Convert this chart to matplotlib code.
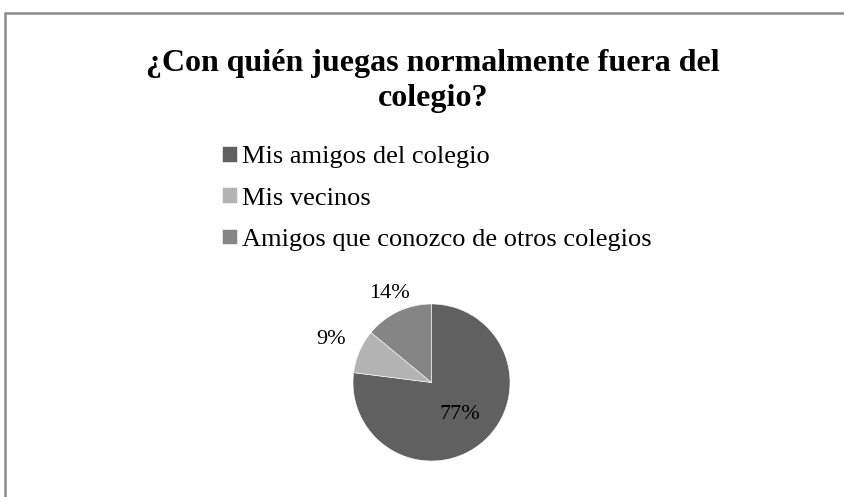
import matplotlib
matplotlib.use('Agg')
import numpy as np
import matplotlib.pyplot as plt
from matplotlib.patches import Rectangle

plt.rcParams['font.family'] = ['Liberation Serif', 'DejaVu Serif']

# Data
title = '¿Con quién juegas normalmente fuera del\ncolegio?'
categories = ['Mis amigos del colegio', 'Mis vecinos', 'Amigos que conozco de otros colegios']
values = [77, 9, 14]
colors = ['#606060', '#b3b3b3', '#858585']

W, H = 845, 497
fig = plt.figure(figsize=(W / 100, H / 100), dpi=100)

# Chart border (runs off the right and bottom edges)
fig.patches.append(Rectangle((5 / W, -0.1), 1.1, (H - 13) / H + 0.1,
                             transform=fig.transFigure, fill=False,
                             edgecolor='#8c8c8c', linewidth=1.8))

fig.text(433 / W, 1 - 81 / H, title, ha='center', va='center',
         fontsize=23, fontweight='bold', linespacing=1.3)

# Pie axes
cx, cy, r = 431.5, 382.5, 78.5
ax = fig.add_axes([(cx - r) / W, (H - cy - r) / H, 2 * r / W, 2 * r / H])
wedges, _ = ax.pie(values, colors=colors, startangle=90, counterclock=False,
                   wedgeprops=dict(edgecolor='white', linewidth=0.4))
ax.set_xlim(-1, 1)
ax.set_ylim(-1, 1)
ax.axis('off')

# Data labels: largest inside, others outside
dists = [0.54, 1.39, 1.26]
for w, v, d in zip(wedges, values, dists):
    ang = np.deg2rad((w.theta1 + w.theta2) / 2)
    ax.text(d * np.cos(ang), d * np.sin(ang), f'{v}%', ha='center', va='center',
            fontsize=16, color='black')

fig.legend(wedges, categories, loc='upper left',
           bbox_to_anchor=(222 / W, 1 - 146 / H), frameon=False,
           fontsize=19, handlelength=0.55, handleheight=0.55,
           handletextpad=0.2, labelspacing=0.72, borderpad=0, borderaxespad=0)

fig.savefig('out.png', dpi=100)
